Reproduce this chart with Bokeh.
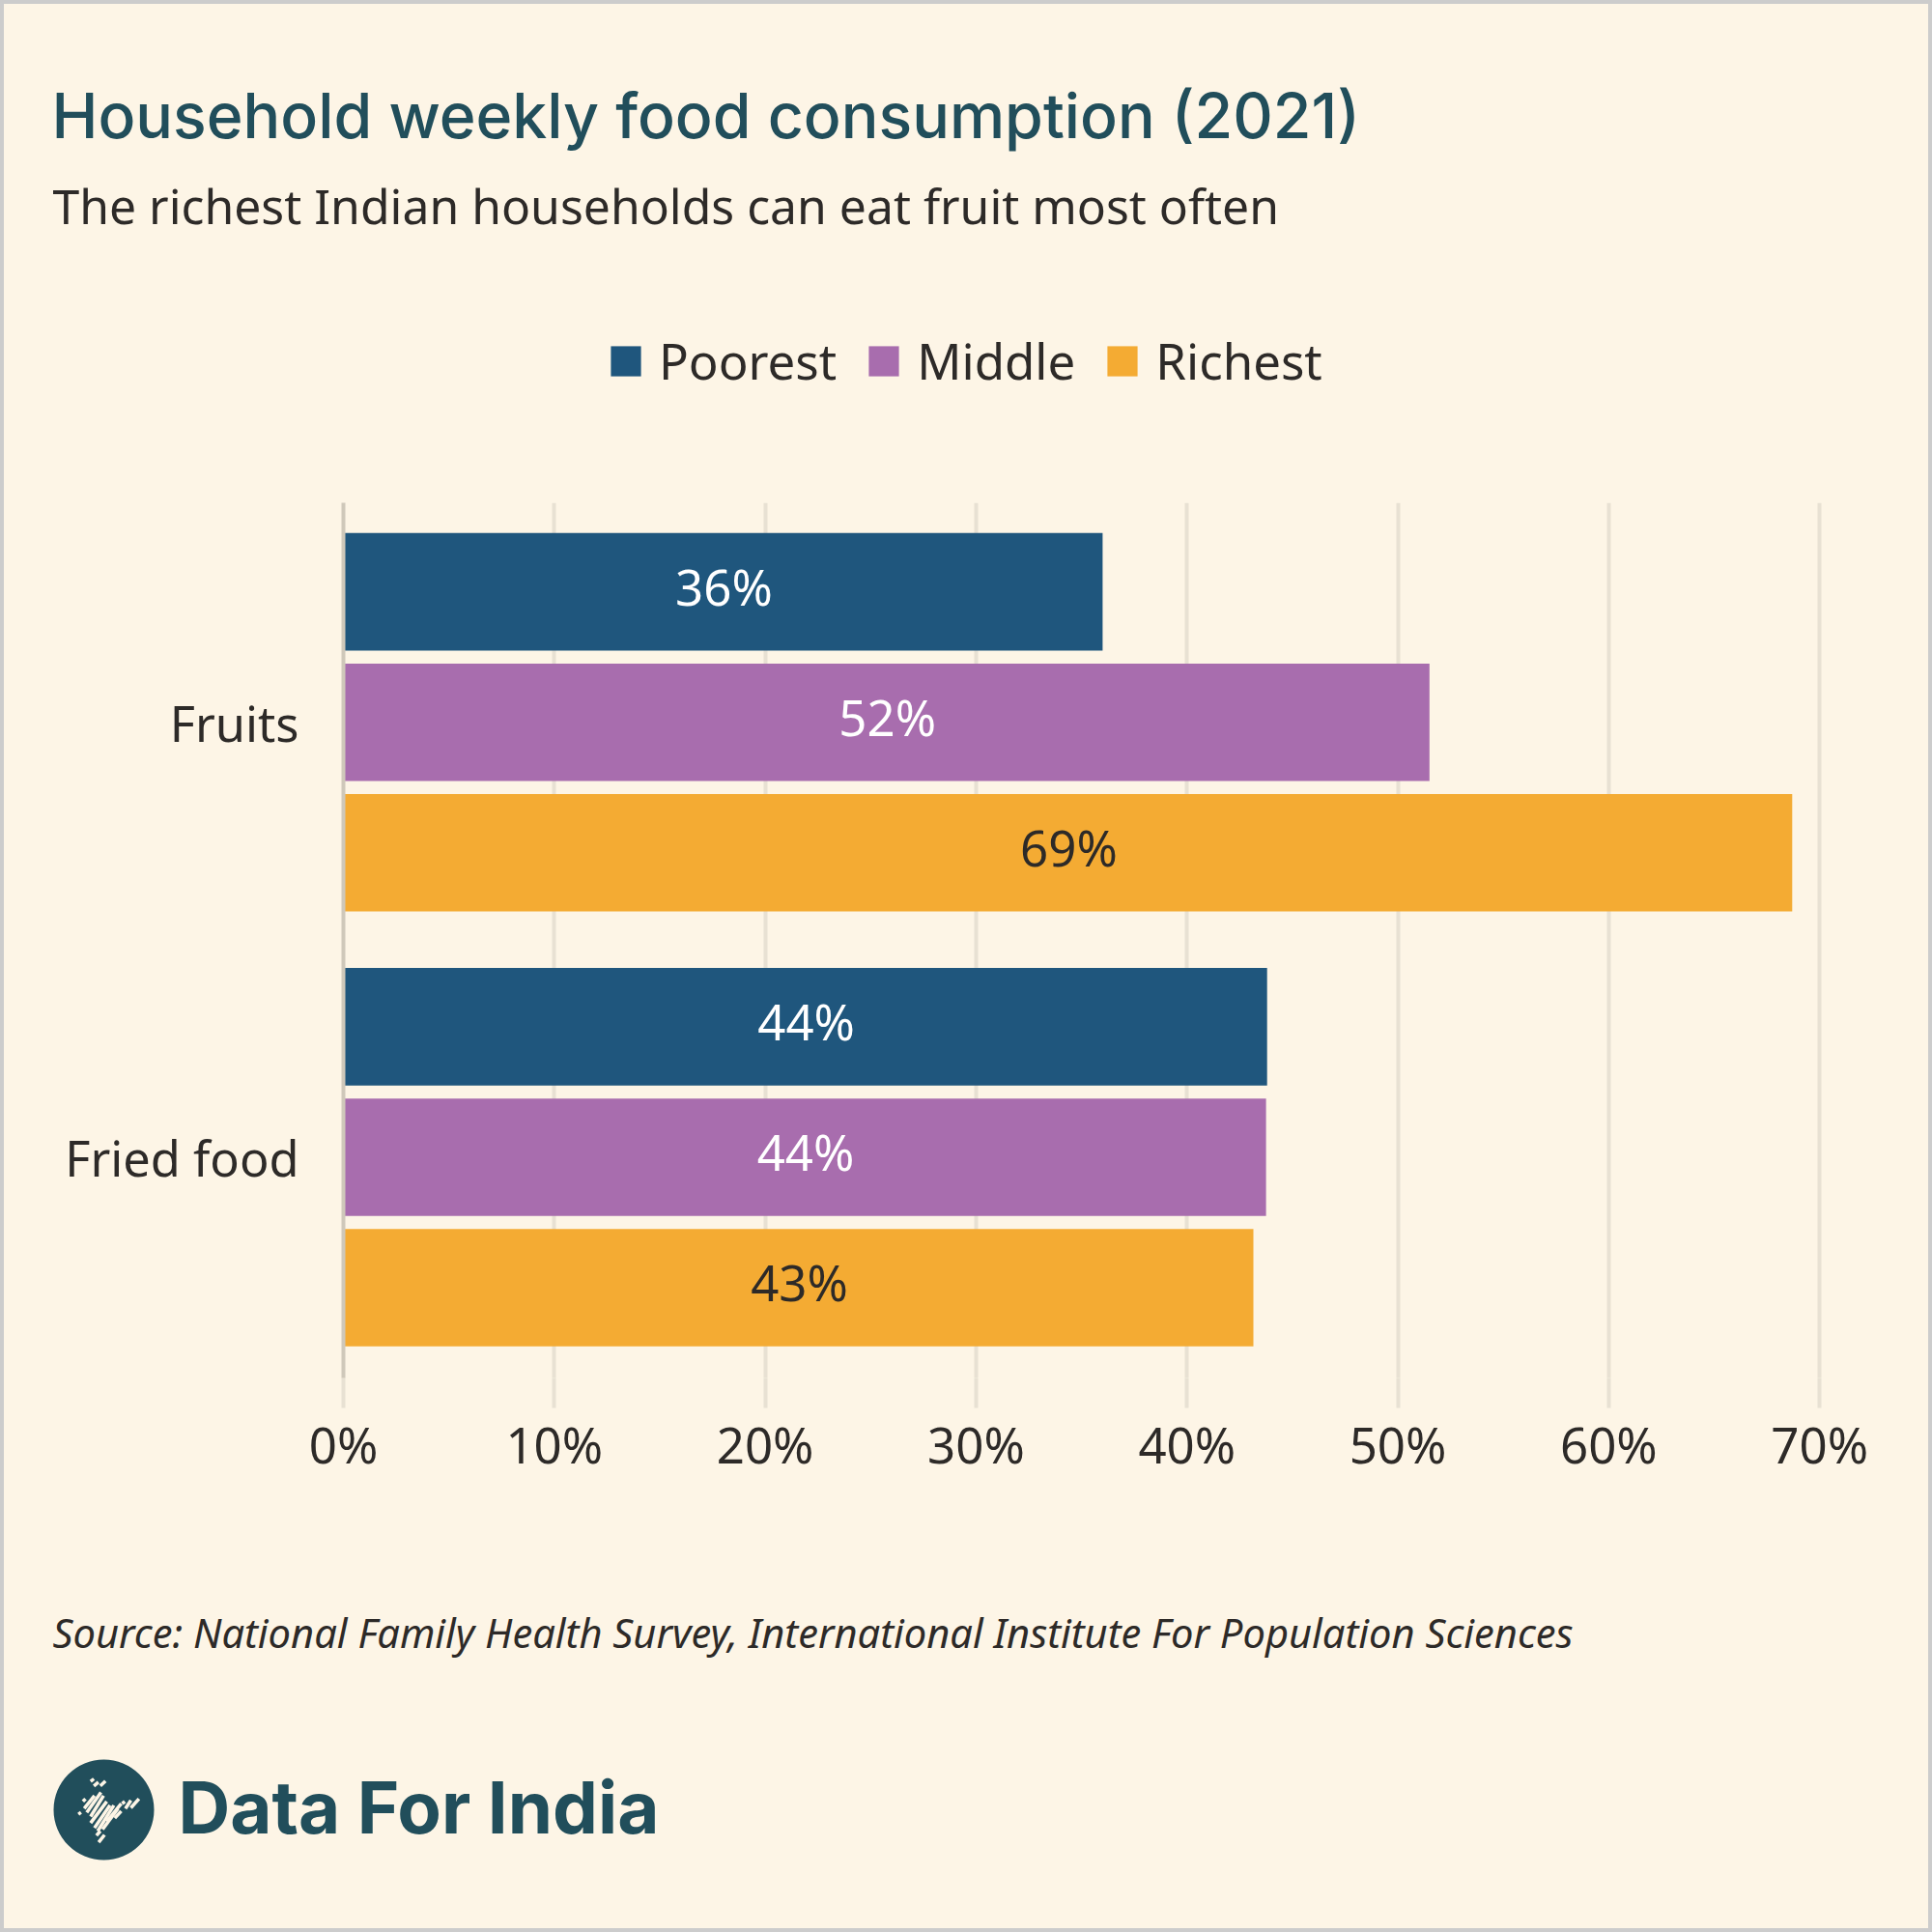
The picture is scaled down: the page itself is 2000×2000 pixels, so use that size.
from bokeh.core.properties import value
from bokeh.embed import file_html
from bokeh.layouts import column
from bokeh.resources import INLINE
from bokeh.plotting import figure
from bokeh.models import (ColumnDataSource, FactorRange, Range1d, FixedTicker, PrintfTickFormatter,
                          Label, LabelSet, Legend, LegendItem, BoxAnnotation, PolyAnnotation)
from bokeh.transform import dodge

categories = ["Fruits", "Fried food"]
poorest = [36.0, 43.8]
middle = [51.5, 43.75]
richest = [68.7, 43.15]
poorest_labels = ["36%", "44%"]
middle_labels = ["52%", "44%"]
richest_labels = ["69%", "43%"]
x_ticks = [0, 10, 20, 30, 40, 50, 60, 70]

title = "Household weekly food consumption (2021)"
subtitle = "The richest Indian households can eat fruit most often"
source_note = "Source: National Family Health Survey, International Institute For Population Sciences"
brand = "Data For India"

BG = "#FDF5E6"
TEAL = "#214E5B"
INK = "#2D2A28"
GRID = "#E8E1D3"
SANS = "Noto Sans"
HEAD = "Inter Medium"
BOLD = "Inter"
BLUE, PURPLE, ORANGE = "#1F567D", "#A86DAE", "#F4AB33"

W = 1992
HEAD_H, CHART_H, FOOT_H = 496, 1100, 396


def panel(height):
    f = figure(width=W, height=height, output_backend="svg", toolbar_location=None,
               x_axis_type=None, y_axis_type=None, x_range=Range1d(0, W), y_range=Range1d(0, height),
               background_fill_color=BG, border_fill_color=BG, outline_line_color=None,
               min_border=0, min_border_left=0, min_border_right=0, min_border_top=0, min_border_bottom=0,
               frame_align=False)
    f.grid.visible = False
    return f


def text(f, x, y, s, font, size, color, style="normal"):
    f.add_layout(Label(x=x, y=y, x_units="canvas", y_units="canvas", text=s, text_font=font,
                       text_font_size=size, text_color=color, text_font_style=style,
                       text_baseline="alphabetic"))


# header
top = panel(HEAD_H)
text(top, 49, 115, title, HEAD, "64.4px", TEAL)
text(top, 50, 208, subtitle, SANS, "49.85px", INK)
swatches = [top.hbar(y=[-50], right=[-40], left=[-50], height=1, fill_color=c, line_color=None)
            for c in (BLUE, PURPLE, ORANGE)]
legend = Legend(items=[LegendItem(label=n, renderers=[r])
                       for n, r in zip(("Poorest", "Middle", "Richest"), swatches)],
                orientation="horizontal", location=(624, 92),
                glyph_width=39, glyph_height=39, label_standoff=15, spacing=29, padding=0, margin=0,
                border_line_color=None, background_fill_color=None, background_fill_alpha=0,
                label_text_font=SANS, label_text_font_size="51px", label_text_color=INK)
top.add_layout(legend, "center")

# chart
p = figure(width=W, height=CHART_H, output_backend="svg", toolbar_location=None,
           x_range=Range1d(0, 71),
           y_range=FactorRange(factors=categories[::-1], factor_padding=0, range_padding=0.006,
                               range_padding_units="absolute"),
           background_fill_color=BG, border_fill_color=BG, outline_line_color=None,
           min_border_left=351, min_border_right=91, min_border_top=20, min_border_bottom=174,
           frame_align=False)
p.ygrid.visible = False
p.xgrid.ticker = FixedTicker(ticks=x_ticks[1:])
p.xgrid.grid_line_color = GRID
p.xgrid.grid_line_width = 4

p.xaxis.ticker = FixedTicker(ticks=x_ticks)
p.xaxis.formatter = PrintfTickFormatter(format="%d%%")
p.xaxis.axis_line_color = None
p.xaxis.major_tick_in = 0
p.xaxis.major_tick_out = 31
p.xaxis.major_tick_line_color = GRID
p.xaxis.major_tick_line_width = 4
p.xaxis.minor_tick_line_color = None
p.xaxis.major_label_standoff = 2
p.xaxis.major_label_text_font = SANS
p.xaxis.major_label_text_font_size = "51px"
p.xaxis.major_label_text_color = INK

p.yaxis.axis_line_color = "#CFC8BA"
p.yaxis.axis_line_width = 4
p.yaxis.major_tick_line_color = None
p.yaxis.minor_tick_line_color = None
p.yaxis.major_label_standoff = 40
p.yaxis.major_label_text_font = SANS
p.yaxis.major_label_text_font_size = "50.5px"
p.yaxis.major_label_text_color = INK

series = [
    (poorest, poorest_labels, BLUE, "#FFFFFF", 0.3015),
    (middle, middle_labels, PURPLE, "#FFFFFF", 0.0015),
    (richest, richest_labels, ORANGE, INK, -0.2985),
]
for vals, labs, col, txt, off in series:
    src = ColumnDataSource(dict(cat=categories, val=vals, mid=[v / 2 for v in vals], lab=labs))
    p.hbar(y=dodge("cat", off, range=p.y_range), right="val", left=0, height=0.27,
           source=src, fill_color=col, line_color=None)
    p.add_layout(LabelSet(x="mid", y=dodge("cat", off, range=p.y_range), text="lab", source=src,
                          text_align="center", text_baseline="middle", text_color=txt,
                          x_offset=1, y_offset=6, text_font=value(SANS), text_font_size="51px"))

# footer
foot = panel(FOOT_H)
text(foot, 50, 89, source_note, SANS, "41.65px", INK, "italic")
text(foot, 180, 270, brand, BOLD, "74.4px", TEAL, "bold")
foot.add_layout(BoxAnnotation(left=51, right=155, top=221, bottom=325, left_units="canvas",
                              right_units="canvas", top_units="canvas", bottom_units="canvas",
                              fill_color=TEAL, fill_alpha=1, line_color=None, border_radius=52))
logo_strokes = [
    (62, 158, 70, 152), (76, 118, 84, 110), (100, 56, 110, 48), (110, 70, 124, 58), (130, 70, 146, 55),
    (80, 140, 112, 100), (88, 152, 132, 90), (100, 165, 140, 100), (100, 185, 150, 118),
    (112, 200, 160, 130), (122, 210, 172, 130), (137, 205, 185, 140), (150, 180, 195, 125),
    (175, 170, 195, 148), (125, 245, 143, 222), (118, 224, 130, 210), (208, 140, 225, 115),
    (225, 138, 250, 110), (198, 125, 206, 118),
]
for x0, y0, x1, y1 in logo_strokes:
    foot.add_layout(PolyAnnotation(xs=[56 + x0 / 3, 56 + x1 / 3], ys=[225 + y0 / 3, 225 + y1 / 3],
                                   xs_units="canvas", ys_units="canvas", fill_alpha=0,
                                   line_color=BG, line_width=3.5, line_alpha=1))

page = column(top, p, foot, spacing=0, width=2000, height=2000,
              styles={"border": "4px solid #CCCCCC", "background-color": BG})
open("out.html", "w").write(file_html(page, INLINE))
